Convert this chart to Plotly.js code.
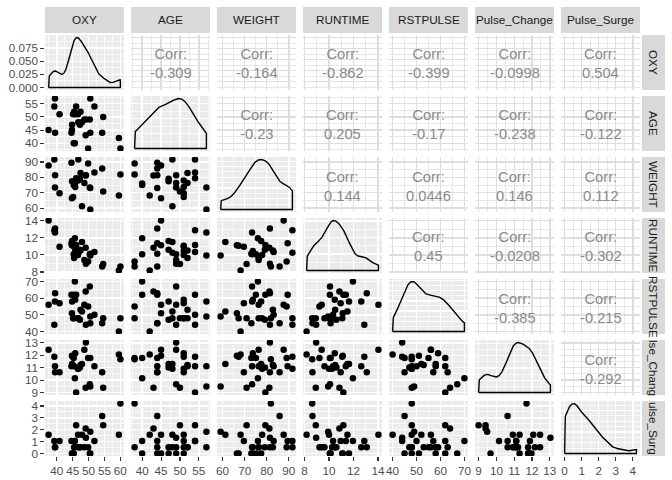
<!DOCTYPE html>
<html><head><meta charset="utf-8">
<script src="https://cdn.plot.ly/plotly-3.0.1.min.js"></script>
<style>html,body{margin:0;padding:0;background:#fff}#chart{width:672px;height:480px}</style>
</head><body><div id="chart"></div>
<script>
// ---- data (31 observations) ----
const VARS = ['OXY','AGE','WEIGHT','RUNTIME','RSTPULSE','Pulse_Change','Pulse_Surge'];
const ROW_STRIP = ['OXY','AGE','WEIGHT','RUNTIME','RSTPULSE','lse_Chang','ulse_Surg'];
const OXY = [44.609,45.313,54.297,59.571,49.874,44.811,45.681,49.091,39.442,60.055,50.541,37.388,44.754,47.273,51.855,49.156,40.836,46.672,46.774,50.388,39.407,46.080,45.441,54.625,45.118,39.203,45.790,50.545,48.673,47.920,47.467];
const AGE = [44,40,44,42,38,47,40,43,44,38,44,45,45,47,54,49,51,51,48,49,57,54,52,50,51,54,51,57,49,48,52];
const WEIGHT = [89.47,75.07,85.84,68.15,89.02,77.45,75.98,81.19,81.42,81.87,73.03,87.66,66.45,79.15,83.12,81.42,69.63,77.91,91.63,73.37,73.37,79.38,76.32,70.87,67.25,91.63,73.71,59.08,76.32,61.24,82.78];
const RUNTIME = [11.37,10.07,8.65,8.17,9.22,11.63,11.95,10.85,13.08,8.63,10.13,14.03,11.12,10.60,10.33,8.95,10.95,10.00,10.25,10.08,12.63,11.17,9.63,8.92,11.08,12.88,10.47,9.93,9.40,11.50,10.50];
const RSTPULSE = [62,62,45,40,55,58,70,64,63,48,45,56,51,47,50,44,57,48,48,67,58,62,48,48,48,44,59,49,56,52,53];
const PULSE_CHANGE = [11.11,11.78,10.63,12.07,11.78,11.30,10.15,9.39,10.63,11.69,11.78,12.45,11.97,11.02,11.11,13.03,10.63,10.92,10.92,9.67,11.11,9.00,11.11,9.39,11.88,11.88,12.16,9.48,12.45,11.30,11.21];
const PULSE_SURGE = [1.05,0,3.16,1.58,0.53,0,1.05,2.11,0.53,4.21,0,1.58,0,0.53,1.05,1.32,1.05,1.58,0.53,0,0.53,2.37,0.53,2.37,0,1.05,0.53,1.84,0.53,1.58,0.53];
const DATA = [OXY, AGE, WEIGHT, RUNTIME, RSTPULSE, PULSE_CHANGE, PULSE_SURGE];

const TICKS = [[40,45,50,55,60],[40,45,50,55],[60,70,80,90],[8,10,12,14],[40,50,60,70],[9,10,11,12,13],[0,1,2,3,4]];
const DENS_TICKS = [0,0.025,0.05,0.075];
const DENS_TICK_LABELS = ['0.000','0.025','0.050','0.075'];

// upper-triangle correlation labels, row by row
const CORR = [
  [null,'-0.309','-0.164','-0.862','-0.399','-0.0998','0.504'],
  [null,null,'-0.23','0.205','-0.17','-0.238','-0.122'],
  [null,null,null,'0.144','0.0446','0.146','0.112'],
  [null,null,null,null,'0.45','-0.0208','-0.302'],
  [null,null,null,null,null,'-0.385','-0.215'],
  [null,null,null,null,null,null,'-0.292'],
  [null,null,null,null,null,null,null]
];

// ---- helpers ----
function q7(s,p){const h=(s.length-1)*p,lo=Math.floor(h);return s[lo]+(h-lo)*(s[Math.min(lo+1,s.length-1)]-s[lo]);}
function bwNrd0(x){const n=x.length,m=x.reduce((a,b)=>a+b,0)/n;const sd=Math.sqrt(x.reduce((a,b)=>a+(b-m)*(b-m),0)/(n-1));const s=[...x].sort((a,b)=>a-b);let lo=Math.min(sd,(q7(s,0.75)-q7(s,0.25))/1.34);if(!(lo>0))lo=sd||1;return 0.9*lo*Math.pow(n,-0.2);}
function kde(x){const bw=bwNrd0(x),lo=Math.min(...x),hi=Math.max(...x),N=512,xs=[],ys=[];const c=1/(x.length*bw*Math.sqrt(2*Math.PI));
  for(let i=0;i<N;i++){const t=lo+(hi-lo)*i/(N-1);let d=0;for(const v of x){const z=(t-v)/bw;d+=Math.exp(-0.5*z*z);}xs.push(t);ys.push(d*c);}
  return {xs,ys,lo,hi};}
function expRange(x){const lo=Math.min(...x),hi=Math.max(...x),d=hi-lo;return [lo-0.05*d,hi+0.05*d];}
function niceStep(M){const raw=M/4,p=Math.pow(10,Math.floor(Math.log10(raw))),f=raw/p;const s=f<1.5?1:f<2.25?2:f<3.5?2.5:f<7.5?5:10;return s*p;}

const W=672,H=480;
const COL_L=45, COL_STEP=86, COL_W=79;
const ROW_T=35, ROW_STEP=61, ROW_H=55;
const FONT='Liberation Sans, Arial, sans-serif';
const BG='#EBEBEB';

const traces=[], shapes=[], annotations=[];
const layout={width:W,height:H,margin:{l:0,r:0,t:0,b:0},paper_bgcolor:'#fff',plot_bgcolor:'rgba(0,0,0,0)',showlegend:false,shapes,annotations,
  font:{family:FONT,size:11.7,color:'#4D4D4D'}};

for(let r=0;r<7;r++){
  for(let c=0;c<7;c++){
    const k=r*7+c+1, xs='x'+(k===1?'':k), ys='y'+(k===1?'':k);
    const xa='xaxis'+(k===1?'':k), ya='yaxis'+(k===1?'':k);
    const upper=c>r, diag=c===r;
    const x0=COL_L+COL_STEP*c, y0=ROW_T+ROW_STEP*r;
    const gridc = upper ? '#DEDEDE' : '#FFFFFF';
    const xt=TICKS[c];
    layout[xa]={domain:[x0/W,(x0+COL_W)/W],anchor:ys,range:expRange(DATA[c]),
      tickmode:'array',tickvals:xt,showgrid:true,gridcolor:gridc,gridwidth:1.4,
      minor:{tickmode:'linear',tick0:xt[0],dtick:(xt[1]-xt[0])/2,showgrid:true,gridcolor:gridc,gridwidth:0.7},
      zeroline:false,showline:false,fixedrange:true,
      ticks:r===6?'outside':'',ticklen:3.7,tickwidth:1.1,tickcolor:'#333333',showticklabels:r===6,
      tickfont:{family:FONT,size:11.7,color:'#4D4D4D'}};
    let yr, yt, ytt=null;
    if(diag){
      const d=kde(DATA[c]);const M=Math.max(...d.ys);
      yr=[-0.05*M,1.05*M];
      if(c===0){yt=DENS_TICKS;ytt=DENS_TICK_LABELS;}
      else{const s=niceStep(M);yt=[];for(let v=0;v<=M*1.05;v+=s)yt.push(+v.toFixed(10));}
      traces.push({type:'scatter',mode:'lines',xaxis:xs,yaxis:ys,
        x:[d.lo,...d.xs,d.hi,d.lo],y:[0,...d.ys,0,0],line:{color:'#000',width:1.4},hoverinfo:'skip'});
    } else {
      yr=expRange(DATA[r]); yt=TICKS[r];
    }
    layout[ya]={domain:[1-(y0+ROW_H)/H,1-y0/H],anchor:xs,range:yr,
      tickmode:'array',tickvals:yt,showgrid:true,gridcolor:gridc,gridwidth:1.4,
      minor:{tickmode:'linear',tick0:yt[0],dtick:(yt[1]-yt[0])/2,showgrid:true,gridcolor:gridc,gridwidth:0.7},
      zeroline:false,showline:false,fixedrange:true,
      ticks:c===0?'outside':'',ticklen:3.7,tickwidth:1.1,tickcolor:'#333333',showticklabels:c===0,
      tickfont:{family:FONT,size:11.7,color:'#4D4D4D'}};
    if(ytt) layout[ya].ticktext=ytt;
    if(!upper){
      shapes.push({type:'rect',layer:'below',xref:xs+' domain',yref:ys+' domain',x0:0,x1:1,y0:0,y1:1,fillcolor:BG,line:{width:0}});
    }
    if(c<r){
      traces.push({type:'scatter',mode:'markers',xaxis:xs,yaxis:ys,x:DATA[c],y:DATA[r],
        marker:{color:'#000',size:6.5},hoverinfo:'skip'});
    }
    if(upper){
      // blank layer so the panel (axes + grid) exists, like geom_blank
      traces.push({type:'scatter',mode:'markers',xaxis:xs,yaxis:ys,x:DATA[c],y:DATA[r],
        marker:{color:'rgba(0,0,0,0)',size:1},hoverinfo:'skip'});
      annotations.push({xref:xs+' domain',yref:ys+' domain',x:0.5,y:0.5,xanchor:'center',yanchor:'middle',yshift:-1.5,
        text:'Corr:<br>'+CORR[r][c],showarrow:false,font:{family:FONT,size:14.7,color:'#8A8A8A'}});
    }
  }
}
// strips
for(let c=0;c<7;c++){
  const x0=COL_L+COL_STEP*c;
  shapes.push({type:'rect',xref:'paper',yref:'paper',x0:x0/W,x1:(x0+COL_W)/W,y0:1-33/H,y1:1-7/H,fillcolor:'#D9D9D9',line:{width:0}});
  annotations.push({xref:'paper',yref:'paper',x:(x0+COL_W/2)/W,y:1-20/H,text:VARS[c],showarrow:false,xanchor:'center',yanchor:'middle',
    font:{family:FONT,size:11.7,color:'#1A1A1A'}});
}
for(let r=0;r<7;r++){
  const y0=ROW_T+ROW_STEP*r;
  shapes.push({type:'rect',xref:'paper',yref:'paper',x0:642/W,x1:665/W,y0:1-(y0+ROW_H)/H,y1:1-y0/H,fillcolor:'#D9D9D9',line:{width:0}});
  annotations.push({xref:'paper',yref:'paper',x:653.5/W,y:1-(y0+ROW_H/2)/H,text:ROW_STRIP[r],textangle:90,showarrow:false,xanchor:'center',yanchor:'middle',
    font:{family:FONT,size:11.7,color:'#1A1A1A'}});
}
Plotly.newPlot('chart',traces,layout,{displayModeBar:false,staticPlot:true});
</script></body></html>
